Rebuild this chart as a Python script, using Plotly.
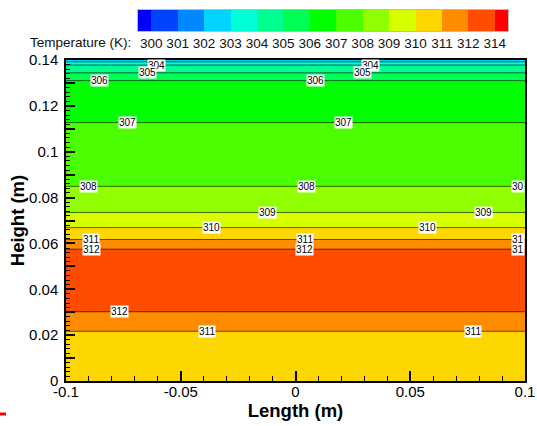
import plotly.graph_objects as go

# ---------------- data ----------------
# Temperature profile along the height (field is uniform along the length)
height_m = [0.0000, 0.0217, 0.0302, 0.0440, 0.0575, 0.0617, 0.0669, 0.0735,
            0.0849, 0.1127, 0.1310, 0.1344, 0.1378, 0.1392, 0.1400]
temperature_K = [310.5, 311.0, 312.0, 312.5, 312.0, 311.0, 310.0, 309.0,
                 308.0, 307.0, 306.0, 305.0, 304.0, 303.0, 302.9]
length_m = [-0.1, 0.1]

contour_levels = list(range(300, 314))
colorbar_ticktext = ['300', '301', '302', '303', '304', '305', '306', '307',
                     '308', '309', '310', '311', '312', '314']
band_colors = ['#0000FF', '#0044FF', '#0088FF', '#00D4FF', '#00FFD8', '#00FF90',
               '#00FF55', '#00FF00', '#4CFF00', '#90FF00', '#D8FF00', '#FFD700',
               '#FF8C00', '#FF4C00', '#FF0000']

x_tickvals = [-0.1, -0.05, 0, 0.05, 0.1]
x_ticktext = ['-0.1', '-0.05', '0', '0.05', '0.1']
y_tickvals = [i / 100 for i in range(0, 15)]
y_ticktext = ['0', '', '0.02', '', '0.04', '', '0.06', '', '0.08', '', '0.1', '',
              '0.12', '', '0.14']

# contour labels: level, which crossing (0 = lowest), text
label_level = [304, 304, 305, 305, 306, 306, 307, 307, 308, 308, 308,
               309, 309, 310, 310, 311, 311, 311, 312, 312, 312, 312, 311, 311]
label_branch = [0, 0, 0, 0, 0, 0, 0, 0, 0, 0, 0,
                0, 0, 0, 0, 1, 1, 1, 1, 1, 1, 0, 0, 0]
label_text = ['304', '304', '305', '305', '306', '306', '307', '307', '308', '308', '30',
              '309', '309', '310', '310', '311', '311', '31', '312', '312', '31', '312',
              '311', '311']

# ---------------- layout / style ----------------
label_xpos = [-0.0604, 0.0325, -0.0647, 0.0290, -0.0852, 0.0085, -0.0730, 0.0207,
              -0.0904, 0.0046, 0.1, -0.0120, 0.0817, -0.0368, 0.0573,
              -0.0891, 0.0041, 0.1, -0.0891, 0.0041, 0.1, -0.0769, -0.0386, 0.0773]
FONT = 'Liberation Sans, Arial, sans-serif'
W, H = 537, 426
ML, MR, MT, MB = 66, 12, 0, 45
PW, PH = W - ML - MR, H - MT - MB
plot_top_px = 60
bar_px = (138, 508, 10, 31)  # x0, x1, ytop, ybottom


def crossings(level):
    out = []
    for i in range(len(height_m) - 1):
        t0, t1 = temperature_K[i], temperature_K[i + 1]
        if t0 == t1:
            continue
        if (t0 - level) * (t1 - level) <= 0:
            f = (level - t0) / (t1 - t0)
            h = round(height_m[i] + f * (height_m[i + 1] - height_m[i]), 6)
            if h not in out:
                out.append(h)
    return sorted(out)


nb = len(band_colors) - 1
cscale = [[k / nb, c] for k, c in enumerate(band_colors)]

z = [[t, t] for t in temperature_K]

fig = go.Figure()
fig.add_trace(go.Contour(
    x=length_m, y=height_m, z=z, autocontour=False,
    contours=dict(start=contour_levels[0], end=contour_levels[-1], size=1,
                  coloring='fill', showlines=True),
    line=dict(color='rgba(0,0,0,0.6)', width=1),
    colorscale=cscale, showscale=False, hoverinfo='skip',
    xaxis='x', yaxis='y'))

# colour legend bar
edges = [contour_levels[0] - 0.5] + contour_levels + [contour_levels[-1] + 0.5]
fig.add_trace(go.Heatmap(
    x=edges, y=[0, 1], z=[list(range(len(band_colors)))],
    colorscale=cscale, zmin=0, zmax=nb, showscale=False, hoverinfo='skip',
    xaxis='x2', yaxis='y2'))

annotations = []
for lev, br, txt, xp in zip(label_level, label_branch, label_text, label_xpos):
    ys = crossings(lev)
    annotations.append(dict(
        x=xp, y=ys[br], xref='x', yref='y', text=txt, showarrow=False,
        xanchor='right' if xp >= 0.1 else 'center', yanchor='middle',
        bgcolor='white', borderpad=0,
        font=dict(family=FONT, size=10, color='black')))

annotations.append(dict(
    x=(133 - ML) / PW, y=(H - MB - 43) / PH, xref='paper', yref='paper',
    text='Temperature (K):', showarrow=False, xanchor='right', yanchor='middle',
    font=dict(family=FONT, size=13.5, color='#111')))

fig.update_layout(
    width=W, height=H,
    margin=dict(l=ML, r=MR, t=MT, b=MB, pad=0),
    paper_bgcolor='white', plot_bgcolor='white',
    showlegend=False,
    font=dict(family=FONT, color='black'),
    annotations=annotations,
    shapes=[dict(type='line', xref='paper', yref='paper',
                 x0=(0 - ML) / PW, x1=(6 - ML) / PW,
                 y0=(H - MB - 414) / PH, y1=(H - MB - 414) / PH,
                 line=dict(color='red', width=3))],
    xaxis=dict(
        domain=[0, 1], range=[-0.1, 0.1], tickvals=x_tickvals, ticktext=x_ticktext,
        ticks='inside', ticklen=10, tickwidth=1.5, tickcolor='black',
        minor=dict(tick0=-0.1, dtick=0.01, ticks='inside', ticklen=5, tickwidth=1,
                   tickcolor='black'),
        showline=True, linecolor='black', linewidth=1.5, mirror=True,
        showgrid=False, zeroline=False, automargin=False,
        ticklabelstandoff=-4,
        tickfont=dict(family=FONT, size=15),
        title=dict(text='<b>Length (m)</b>', font=dict(family=FONT, size=18.5),
                   standoff=0)),
    yaxis=dict(
        domain=[0, (H - MB - plot_top_px) / PH], range=[0, 0.14],
        tickvals=y_tickvals, ticktext=y_ticktext,
        ticks='inside', ticklen=9, tickwidth=2, tickcolor='black',
        minor=dict(tick0=0, dtick=0.002, ticks='inside', ticklen=4, tickwidth=1,
                   tickcolor='black'),
        showline=True, linecolor='black', linewidth=1.5, mirror=True,
        showgrid=False, zeroline=False, automargin=False,
        ticklabelstandoff=3,
        tickfont=dict(family=FONT, size=15),
        title=dict(text='<b>Height (m)</b>', font=dict(family=FONT, size=18.5),
                   standoff=0)),
    xaxis2=dict(
        domain=[(bar_px[0] - ML) / PW, (bar_px[1] - ML) / PW],
        range=[edges[0], edges[-1]], anchor='y2',
        tickvals=contour_levels, ticktext=colorbar_ticktext, ticks='',
        showline=True, linecolor='#bbbbbb', linewidth=1, mirror=True,
        showgrid=False, zeroline=False, automargin=False,
        tickfont=dict(family=FONT, size=13.5, color='#111')),
    yaxis2=dict(
        domain=[(H - MB - bar_px[3]) / PH, (H - MB - bar_px[2]) / PH],
        range=[0, 1], anchor='x2', showticklabels=False, ticks='',
        showline=True, linecolor='#bbbbbb', linewidth=1, mirror=True,
        showgrid=False, zeroline=False, automargin=False),
)

fig.write_html('out.html')
